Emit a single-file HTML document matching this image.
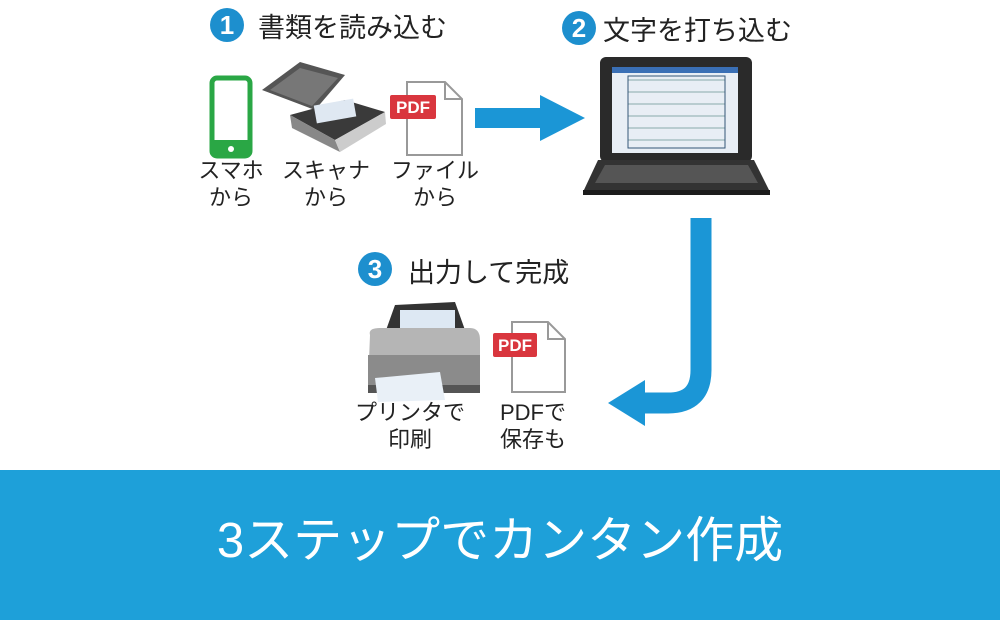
<!DOCTYPE html>
<html><head><meta charset="utf-8"><style>
body{margin:0;width:1000px;height:620px;background:#fff;position:relative;overflow:hidden;font-family:"Liberation Sans","Noto Sans CJK JP",sans-serif;color:#222}
.t{position:absolute;white-space:nowrap}
.lab{position:absolute;text-align:center;font-size:22px;line-height:27px;width:110px}
.num{position:absolute;width:34px;height:34px;border-radius:50%;background:#1d8fce;color:#fff;font-weight:bold;font-size:26px;line-height:34px;text-align:center}
.band{position:absolute;left:0;top:470px;width:1000px;height:150px;background:#1ea0d9}
</style></head><body>
<div class="num" style="left:210px;top:8px">1</div>
<div class="t" style="left:258px;top:6px;font-size:27px">書類を読み込む</div>
<div class="num" style="left:562px;top:11px">2</div>
<div class="t" style="left:603px;top:9px;font-size:27px">文字を打ち込む</div>
<div class="num" style="left:358px;top:252px">3</div>
<div class="t" style="left:408px;top:251px;font-size:27px">出力して完成</div>

<svg width="1000" height="470" style="position:absolute;left:0;top:0">
<rect x="212" y="78" width="38" height="78" rx="5" fill="none" stroke="#2aa745" stroke-width="5"/>
<rect x="210" y="140" width="42" height="16" rx="4" fill="#2aa745"/>
<circle cx="231" cy="149" r="3" fill="#fff"/>
<polygon points="262,90 300,62 345,75 315,110" fill="#555"/>
<polygon points="270,90 300,68 338,78 312,106" fill="#777"/>
<polygon points="290,115 345,100 385,112 335,140" fill="#3a3a3a"/>
<polygon points="290,115 335,140 340,152 292,128" fill="#888"/>
<polygon points="335,140 385,112 386,124 340,152" fill="#ccc"/>
<rect x="315" y="102" width="40" height="18" fill="#dfe8f2" transform="rotate(-10 335 111)"/>
<path d="M407 82 H445 L462 99 V155 H407 Z" fill="#fff" stroke="#999" stroke-width="2"/>
<path d="M445 82 V99 H462" fill="none" stroke="#999" stroke-width="2"/>
<rect x="390" y="95" width="46" height="24" rx="2" fill="#d9363e"/>
<text x="413" y="113" font-size="17" font-weight="bold" fill="#fff" text-anchor="middle" font-family="Liberation Sans">PDF</text>
<rect x="475" y="108" width="70" height="20" fill="#1b96d6"/>
<polygon points="540,95 585,118 540,141" fill="#1b96d6"/>
<rect x="600" y="57" width="152" height="105" rx="6" fill="#2a2a2a"/>
<rect x="612" y="67" width="126" height="86" fill="#e8eef5"/>
<rect x="612" y="67" width="126" height="6" fill="#3a6fb5"/>
<g stroke="#8aa" stroke-width="1">
<line x1="628" y1="80" x2="725" y2="80"/><line x1="628" y1="92" x2="725" y2="92"/><line x1="628" y1="104" x2="725" y2="104"/><line x1="628" y1="116" x2="725" y2="116"/><line x1="628" y1="128" x2="725" y2="128"/><line x1="628" y1="140" x2="725" y2="140"/>
<rect x="628" y="76" width="97" height="72" fill="none" stroke="#357"/></g>
<polygon points="598,160 754,160 770,192 583,192" fill="#333"/>
<polygon points="605,165 748,165 758,183 595,183" fill="#555"/>
<rect x="583" y="190" width="187" height="5" fill="#1c1c1c"/>
<path d="M701 218 V370 Q701 403 668 403 H640" fill="none" stroke="#1b96d6" stroke-width="21"/>
<polygon points="645,380 608,403 645,426" fill="#1b96d6"/>
<polygon points="395,305 455,302 465,330 385,333" fill="#333"/>
<rect x="400" y="310" width="55" height="22" fill="#dde8f3"/>
<path d="M370 335 Q368 328 380 328 H470 Q480 328 480 340 V385 H368 Z" fill="#b5b5b5"/>
<rect x="368" y="355" width="112" height="30" fill="#8b8b8b"/>
<rect x="368" y="385" width="112" height="8" fill="#555"/>
<polygon points="375,378 440,372 445,400 378,402" fill="#e9f0f7"/>
<path d="M512 322 H548 L565 339 V392 H512 Z" fill="#fff" stroke="#999" stroke-width="2"/>
<path d="M548 322 V339 H565" fill="none" stroke="#999" stroke-width="2"/>
<rect x="493" y="333" width="44" height="24" rx="2" fill="#d9363e"/>
<text x="515" y="351" font-size="17" font-weight="bold" fill="#fff" text-anchor="middle" font-family="Liberation Sans">PDF</text>
</svg>

<div class="lab" style="left:176px;top:157px">スマホ<br>から</div>
<div class="lab" style="left:271px;top:157px">スキャナ<br>から</div>
<div class="lab" style="left:380px;top:157px">ファイル<br>から</div>
<div class="lab" style="left:355px;top:399px">プリンタで<br>印刷</div>
<div class="lab" style="left:478px;top:399px">PDFで<br>保存も</div>

<div class="band"></div>
<div class="t" style="left:0;width:1000px;top:510px;text-align:center;color:#fff;font-size:49px;line-height:62px">3ステップでカンタン作成</div>
</body></html>
